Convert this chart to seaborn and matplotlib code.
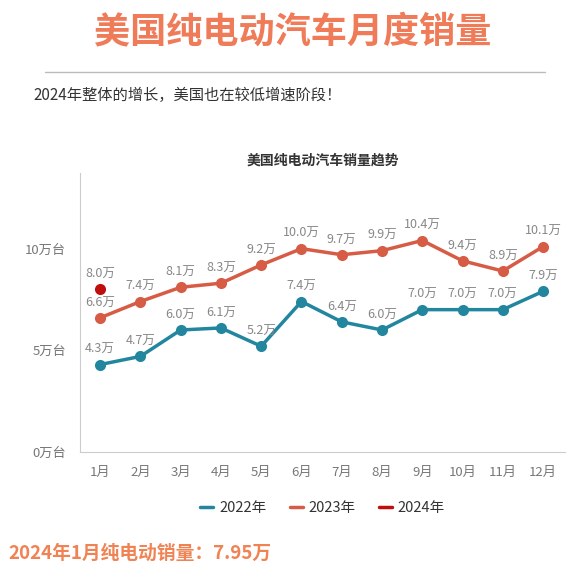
import seaborn as sns
import matplotlib.pyplot as plt
import pandas as pd
from matplotlib.lines import Line2D

months = ["1月", "2月", "3月", "4月", "5月", "6月", "7月", "8月", "9月", "10月", "11月", "12月"]
sales_2022 = [4.3, 4.7, 6.0, 6.1, 5.2, 7.4, 6.4, 6.0, 7.0, 7.0, 7.0, 7.9]
sales_2023 = [6.6, 7.4, 8.1, 8.3, 9.2, 10.0, 9.7, 9.9, 10.4, 9.4, 8.9, 10.1]
sales_2024 = [8.0]
y_ticks = [0, 5, 10]
y_labels = ["0万台", "5万台", "10万台"]

sns.set_style("white")
plt.rcParams['font.family'] = ['Noto Sans CJK SC', 'DejaVu Sans']

colors = {"2022年": "#23869f", "2023年": "#d65c45", "2024年": "#c00d0d"}

rows = []
for year, vals in [("2022年", sales_2022), ("2023年", sales_2023), ("2024年", sales_2024)]:
    for i, v in enumerate(vals):
        rows.append({"month": i + 1, "sales": v, "year": year})
df = pd.DataFrame(rows)

fig = plt.figure(figsize=(5.86, 5.78), dpi=100)
ax = fig.add_axes([0.1365, 0.218, 0.828, 0.482])

sns.lineplot(data=df, x="month", y="sales", hue="year", palette=colors,
             marker="o", markersize=8, markeredgewidth=0, linewidth=2.5, ax=ax)

for year, vals in [("2022年", sales_2022), ("2023年", sales_2023), ("2024年", sales_2024)]:
    for i, v in enumerate(vals):
        ax.annotate(f"{v:.1f}万", (i + 1, v), xytext=(0, 6), textcoords="offset points",
                    ha="center", va="bottom", fontsize=9, color="#888888")

ax.set_xlim(0.5, 12.55)
ax.set_ylim(0, 13.7)
ax.set_xticks(range(1, 13))
ax.set_xticklabels(months, fontsize=9.5, color="#777777")
ax.set_yticks(y_ticks)
ax.set_yticklabels(y_labels, fontsize=9.5, color="#777777")
ax.tick_params(axis="both", length=4, color="#cccccc", pad=6)
ax.set_xlabel("")
ax.set_ylabel("")
sns.despine(ax=ax)
for s in ["left", "bottom"]:
    ax.spines[s].set_color("#cccccc")

ax.set_title("美国纯电动汽车销量趋势", fontsize=10, fontweight="bold", color="#333333", pad=6)

labels = ["2022年", "2023年", "2024年"]
handles = [Line2D([0], [0], color=colors[l], linewidth=2.5) for l in labels]
ax.legend(handles, labels, loc="upper center", bbox_to_anchor=(0.5, -0.13), ncol=3,
          frameon=False, fontsize=10.5, handlelength=0.9, columnspacing=1.6, handletextpad=0.4,
          labelcolor="#333333")

fig.text(0.5, 0.943, "美国纯电动汽车月度销量", ha="center", va="center",
         fontsize=26, fontweight="bold", color="#ef7b58")
fig.add_artist(plt.Line2D([45 / 586, 545 / 586], [1 - 72 / 578, 1 - 72 / 578],
                          color="#bbbbbb", linewidth=1))
fig.text(33 / 586, 1 - 95 / 578, "2024年整体的增长，美国也在较低增速阶段！", ha="left", va="center",
         fontsize=11, color="#333333")
fig.text(8 / 586, 1 - 553 / 578, "2024年1月纯电动销量：7.95万", ha="left", va="center",
         fontsize=13.5, fontweight="bold", color="#f08354")

plt.savefig("out.png", dpi=100)
